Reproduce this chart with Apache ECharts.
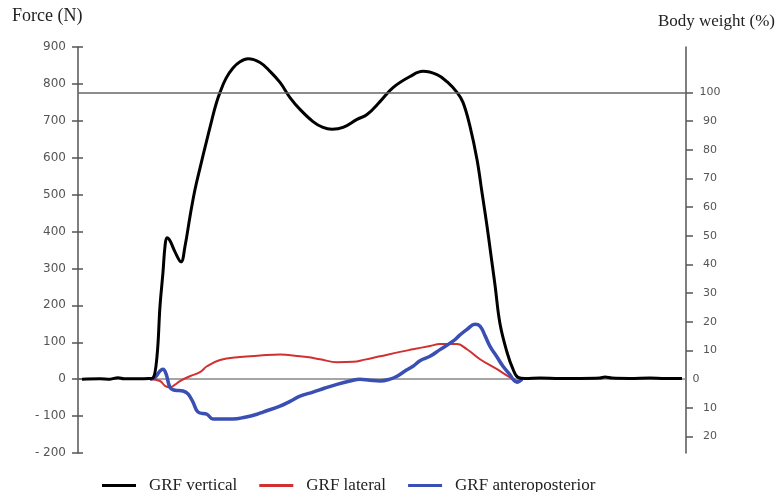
<!DOCTYPE html>
<html><head><meta charset="utf-8">
<script src="https://cdn.jsdelivr.net/npm/echarts@6/dist/echarts.min.js"></script>
<style>html,body{margin:0;padding:0;background:#fff}#c{width:777px;height:492px}</style>
</head><body><div id="c"></div>
<script>
// body weight of the subject (N) = 100 %
const bodyWeightN = 777;
const forceMin = -200, forceMax = 900, forceInterval = 100;
const bwLabelValues = [-20, -10, 0, 10, 20, 30, 40, 50, 60, 70, 80, 90, 100];
const bwTickValues = [-20, -10, 10, 20, 30, 40, 50, 60, 70, 80, 90, 100];
const seriesNames = ['GRF vertical', 'GRF lateral', 'GRF anteroposterior'];

// time samples (arbitrary units) and forces (N)
const verticalT = [4,22,32,40,46,62,72,75,79,82,85,87,89,92,97,103,107,112,117,122,129,134,138,142,148,155,162,170,182,192,202,212,222,235,245,254,265,279,289,302,315,332,345,359,369,379,385,392,399,404,409,413,417,422,429,435,440,447,462,482,502,522,527,534,552,572,587,604];
const verticalF = [0,1,0,4,1,1,2,3,62,198,290,360,383,375,345,318,360,441,514,572,650,704,745,777,815,843,860,868,858,834,804,763,731,698,682,677,682,704,717,752,790,820,834,825,806,777,750,685,595,506,415,335,255,150,73,27,5,2,3,2,2,3,6,3,2,3,2,2];

const lateralT = [72,82,87,92,97,102,112,122,129,142,162,182,202,222,229,242,259,275,287,302,322,335,352,362,379,389,402,419,432,439,444];
const lateralF = [0,-5,-18,-22,-15,-5,8,19,35,52,60,64,67,62,60,54,46,47,53,62,74,81,90,95,95,81,54,27,5,-5,0];

const apT = [72,77,82,85,88,92,97,105,110,115,120,129,135,155,167,179,185,202,212,222,235,247,259,272,282,292,302,312,319,327,335,342,352,362,375,382,389,397,402,407,412,419,425,432,435,439,444];
const apF = [0,5,22,27,15,-22,-30,-32,-40,-62,-89,-95,-108,-108,-103,-95,-89,-73,-60,-46,-35,-24,-14,-5,0,-3,-5,0,8,22,35,50,62,80,103,120,135,149,144,118,89,60,35,12,0,-8,0];

const pairs = (t, f) => t.map((v, i) => [v, f[i]]);
const serif = 'Liberation Serif, Times New Roman, serif';
const sans = 'DejaVu Sans, Arial, sans-serif';

const chart = echarts.init(document.getElementById('c'), null, {renderer: 'canvas'});
chart.setOption({
  animation: false,
  backgroundColor: '#fff',
  grid: {left: 78, right: 91, top: 47, bottom: 39},
  graphic: [
    {type: 'text', left: 12, top: 7, style: {text: 'Force (N)', font: '18px ' + serif, fill: '#222'}},
    {type: 'text', right: 2, top: 13, style: {text: 'Body weight (%)', font: '17px ' + serif, fill: '#222'}}
  ],
  legend: {
    left: 97, top: 472, icon: 'rect', itemWidth: 34, itemHeight: 3, itemGap: 22,
    data: seriesNames,
    textStyle: {fontFamily: serif, fontSize: 17, color: '#222', padding: [0, 0, 0, 8]}
  },
  xAxis: {
    type: 'value', min: 0, max: 608,
    axisLine: {show: true, onZero: true, lineStyle: {color: '#888', width: 1.5}},
    axisTick: {show: false}, axisLabel: {show: false}, splitLine: {show: false}
  },
  yAxis: [
    {
      type: 'value', position: 'left', min: forceMin, max: forceMax, interval: forceInterval,
      axisLine: {show: true, lineStyle: {color: '#555', width: 1.5}},
      axisTick: {show: true, length: 6, lineStyle: {color: '#555', width: 1.5}},
      axisLabel: {color: '#555', fontFamily: sans, fontSize: 12, margin: 12,
        formatter: v => v < 0 ? '- ' + Math.abs(v) : String(v)},
      splitLine: {show: false}
    },
    {
      type: 'value', position: 'right', min: forceMin / bodyWeightN * 100, max: forceMax / bodyWeightN * 100,
      axisLine: {show: true, lineStyle: {color: '#555', width: 1.5}},
      axisTick: {show: true, length: 7, customValues: bwTickValues, lineStyle: {color: '#555', width: 1.5}},
      axisLabel: {color: '#555', fontFamily: sans, fontSize: 11, margin: 24, align: 'center',
        customValues: bwLabelValues,
        formatter: v => v === 0 ? '{z|0}' : String(Math.abs(Math.round(v))),
        rich: {z: {padding: [0, 28, 0, 0], fontFamily: sans, fontSize: 11, color: '#555'}}},
      splitLine: {show: false}
    },
    {
      type: 'value', position: 'left', min: forceMin, max: forceMax, interval: forceInterval,
      axisLine: {show: false},
      axisTick: {show: true, inside: true, length: 5, lineStyle: {color: '#555', width: 1.5}},
      axisLabel: {show: false}, splitLine: {show: false}
    }
  ],
  series: [
    {
      name: seriesNames[0], type: 'line', data: pairs(verticalT, verticalF), yAxisIndex: 0,
      showSymbol: false, smooth: 0.4, color: '#000', z: 4,
      lineStyle: {color: '#000', width: 3},
      markLine: {silent: true, symbol: 'none', label: {show: false},
        lineStyle: {color: '#666', width: 1.5, type: 'solid'},
        data: [{yAxis: bodyWeightN}]}
    },
    {
      name: seriesNames[1], type: 'line', data: pairs(lateralT, lateralF), yAxisIndex: 0,
      showSymbol: false, smooth: 0.4, color: '#d03030', z: 2,
      lineStyle: {color: '#d03030', width: 2}
    },
    {
      name: seriesNames[2], type: 'line', data: pairs(apT, apF), yAxisIndex: 0,
      showSymbol: false, smooth: 0.4, color: '#3a4fb4', z: 3,
      lineStyle: {color: '#3a4fb4', width: 3.5}
    }
  ]
});
</script>
</body></html>
